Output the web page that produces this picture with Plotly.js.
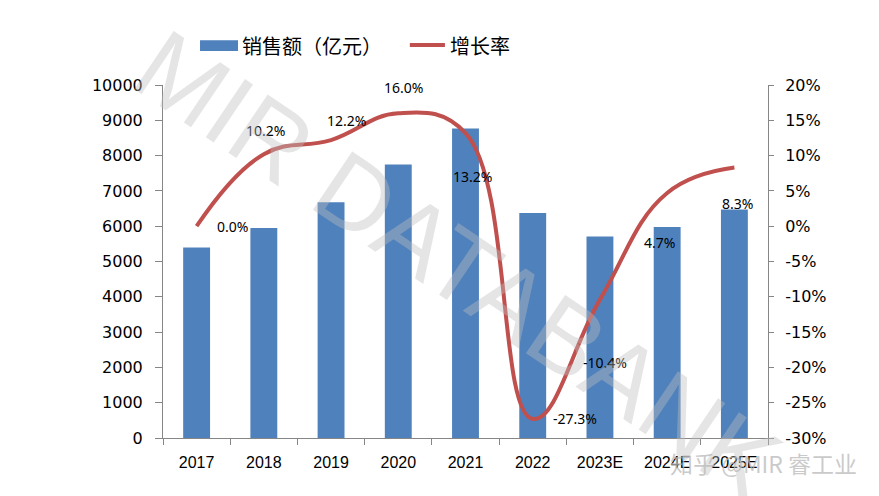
<!DOCTYPE html>
<html>
<head>
<meta charset="utf-8">
<script src="https://cdn.plot.ly/plotly-3.0.1.min.js"></script>
<style>html,body{margin:0;padding:0;background:#fff;}#chart{width:879px;height:496px;}</style>
</head>
<body>
<div id="chart"></div>
<script>
const categories = ['2017','2018','2019','2020','2021','2022','2023E','2024E','2025E'];
const sales = [5400, 5950, 6680, 7745, 8770, 6375, 5710, 5980, 6475];
const growth = [0.0, 0.102, 0.122, 0.160, 0.132, -0.273, -0.104, 0.047, 0.083];
const growthLabels = ['0.0%','10.2%','12.2%','16.0%','13.2%','-27.3%','-10.4%','4.7%','8.3%'];
const rateTickVals = [-0.30,-0.25,-0.20,-0.15,-0.10,-0.05,0,0.05,0.10,0.15,0.20];
const rateTickText = ['-30%','-25%','-20%','-15%','-10%','-5%','0%','5%','10%','15%','20%'];
const labelShift = [[36,0],[2,24],[15,20],[5,26],[7,-43],[42,0],[5,-63],[-8,-49],[3,-36]];
const salesName = '销售额（亿元）';
const growthName = '增长率';

const traces = [
  {type:'bar', x:categories, y:sales, name:salesName, marker:{color:'#4F81BD'}, width:0.4, yaxis:'y', showlegend:false},
  {type:'scatter', mode:'lines', x:categories, y:growth, name:growthName, yaxis:'y2', showlegend:false,
   line:{color:'#C0504D', width:4, shape:'spline', smoothing:1.2}}
];

const annotations = growthLabels.map((t,i)=>({
  x:i, y:growth[i], xref:'x', yref:'y2', text:t, showarrow:false,
  xshift:labelShift[i][0], yshift:labelShift[i][1],
  font:{family:'Noto Sans, sans-serif', size:14, color:'#000'}
}));
annotations.push({
  xref:'paper', yref:'paper', x:0.487, y:0.49, text:'MIR DATABANK', showarrow:false,
  textangle:34, font:{family:'Liberation Sans, sans-serif', size:102, color:'rgba(190,190,190,0.40)'}
});
annotations.push({
  xref:'paper', yref:'paper', x:1.15, y:-0.071, xanchor:'right', yanchor:'middle', text:'知乎 @MIR 睿工业', showarrow:false,
  font:{family:'Noto Sans CJK SC, sans-serif', size:23, color:'rgba(185,185,185,0.75)'}
});
// legend (custom, to match wide rectangle swatch)
annotations.push({xref:'paper', yref:'paper', x:0.127, y:1.113, xanchor:'left', yanchor:'middle', text:salesName,
  showarrow:false, font:{family:'Noto Sans CJK SC, sans-serif', size:20, color:'#000'}});
annotations.push({xref:'paper', yref:'paper', x:0.471, y:1.113, xanchor:'left', yanchor:'middle', text:growthName,
  showarrow:false, font:{family:'Noto Sans CJK SC, sans-serif', size:20, color:'#000'}});
const shapes = [
  {type:'rect', xref:'paper', yref:'paper', x0:0.0612, x1:0.124, y0:1.096, y1:1.127, fillcolor:'#4F81BD', line:{width:0}},
  {type:'line', xref:'paper', yref:'paper', x0:0.408, x1:0.466, y0:1.113, y1:1.113, line:{color:'#C0504D', width:4}}
];

const layout = {
  width:879, height:496,
  margin:{l:163, r:111, t:85, b:58},
  paper_bgcolor:'#fff', plot_bgcolor:'#fff',
  showlegend:false,
  xaxis:{type:'category', range:[-0.5, 8.5], showline:true, linecolor:'#868686', linewidth:1, ticks:'outside', ticklen:6,
    tickcolor:'#868686', tickson:'boundaries', showgrid:false, zeroline:false, tickangle:0, ticklabelstandoff:10,
    tickfont:{family:'Liberation Sans Narrow, Arial Narrow, Liberation Sans, sans-serif', size:16, color:'#000'}},
  yaxis:{range:[0,10000], dtick:1000, tickformat:'d', showline:true, linecolor:'#868686', ticks:'outside', ticklen:7,
    tickcolor:'#868686', showgrid:false, zeroline:false, ticklabelstandoff:9,
    tickfont:{family:'DejaVu Sans, sans-serif', size:16, color:'#000'}},
  yaxis2:{range:[-0.3,0.2], tickmode:'array', tickvals:rateTickVals, ticktext:rateTickText, overlaying:'y', side:'right', showline:true,
    linecolor:'#868686', ticks:'outside', ticklen:5, tickcolor:'#868686', showgrid:false, zeroline:false,
    ticklabelstandoff:8,
    tickfont:{family:'DejaVu Sans, sans-serif', size:16, color:'#000'}},
  annotations:annotations,
  shapes:shapes
};
Plotly.newPlot('chart', traces, layout, {displayModeBar:false, staticPlot:true});
</script>
</body>
</html>
